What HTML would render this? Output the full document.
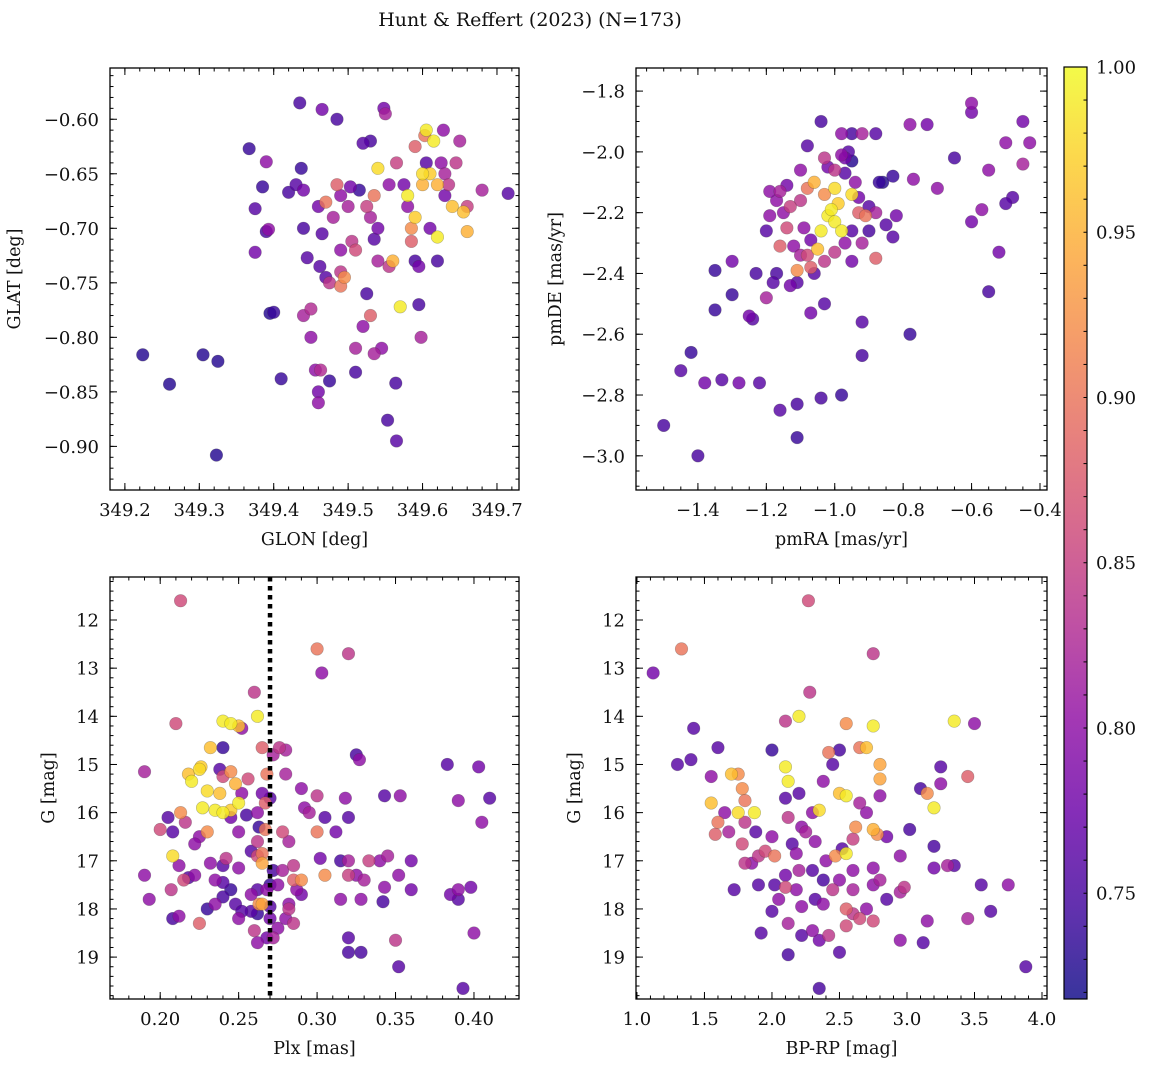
<!DOCTYPE html>
<html><head><meta charset="utf-8"><style>
body{margin:0;background:#fff;}
svg{display:block;font-family:"DejaVu Serif","Liberation Serif",serif;}
</style></head><body>
<svg id="fig" width="1149" height="1067" viewBox="0 0 1149 1067">
<text x="530" y="26" text-anchor="middle" font-size="19" fill="#111">Hunt &amp; Reffert (2023) (N=173)</text>
</svg>
<script>
// ---- data ----
const glon=[349.224,349.26,349.305,349.325,349.323,349.367,349.375,349.375,349.385,349.39,349.393,349.39,349.395,349.40,349.41,349.42,349.435,349.437,349.43,349.44,349.44,349.445,349.44,349.45,349.45,349.456,349.46,349.46,349.463,349.465,349.47,349.46,349.465,349.462,349.47,349.475,349.475,349.485,349.48,349.485,349.49,349.49,349.49,349.49,349.495,349.5,349.503,349.505,349.51,349.51,349.51,349.515,349.52,349.52,349.525,349.53,349.525,349.53,349.535,349.535,349.54,349.54,349.53,349.535,349.54,349.545,349.55,349.548,349.555,349.555,349.56,349.565,349.553,349.565,349.57,349.575,349.58,349.58,349.585,349.585,349.59,349.59,349.59,349.595,349.595,349.598,349.60,349.60,349.603,349.61,349.605,349.605,349.61,349.615,349.62,349.62,349.62,349.625,349.628,349.63,349.63,349.635,349.64,349.645,349.65,349.655,349.66,349.66,349.68,349.715,349.564];
const glat=[-0.816,-0.843,-0.816,-0.822,-0.908,-0.627,-0.682,-0.722,-0.662,-0.639,-0.701,-0.703,-0.778,-0.777,-0.838,-0.667,-0.585,-0.645,-0.66,-0.665,-0.70,-0.727,-0.78,-0.774,-0.80,-0.83,-0.85,-0.86,-0.83,-0.591,-0.676,-0.68,-0.705,-0.735,-0.745,-0.75,-0.84,-0.60,-0.69,-0.66,-0.67,-0.72,-0.74,-0.753,-0.745,-0.68,-0.662,-0.712,-0.72,-0.81,-0.832,-0.665,-0.622,-0.79,-0.76,-0.62,-0.68,-0.69,-0.71,-0.67,-0.645,-0.70,-0.78,-0.815,-0.73,-0.81,-0.595,-0.59,-0.735,-0.66,-0.73,-0.64,-0.876,-0.895,-0.772,-0.66,-0.67,-0.68,-0.70,-0.712,-0.73,-0.69,-0.625,-0.735,-0.77,-0.80,-0.65,-0.66,-0.615,-0.70,-0.61,-0.64,-0.65,-0.62,-0.66,-0.708,-0.73,-0.64,-0.61,-0.65,-0.67,-0.66,-0.68,-0.64,-0.62,-0.685,-0.703,-0.68,-0.665,-0.668,-0.842];
const prob1=[.73,.73,.73,.73,.73,.74,.76,.78,.74,.8,.8,.75,.73,.74,.74,.75,.75,.74,.76,.78,.75,.76,.82,.83,.8,.8,.78,.8,.83,.78,.9,.78,.76,.76,.76,.84,.74,.75,.82,.88,.8,.8,.84,.9,.92,.82,.78,.84,.86,.82,.75,.74,.76,.8,.75,.75,.85,.82,.76,.9,.98,.78,.88,.82,.82,.8,.82,.78,.84,.8,.95,.85,.75,.76,.99,.78,.99,.8,.92,.88,.75,.97,.88,.78,.75,.82,.98,.95,.9,.78,.99,.76,.97,.99,.95,.99,.75,.8,.8,.82,.78,.84,.96,.84,.82,.96,.95,.85,.82,.76,.75];

const pmra=[-1.5,-1.4,-1.45,-1.42,-1.38,-1.33,-1.28,-1.22,-1.35,-1.30,-1.35,-1.30,-1.23,-1.25,-1.24,-1.2,-1.18,-1.17,-1.16,-1.11,-1.11,-1.04,-0.98,-1.07,-1.03,-0.92,-0.92,-0.78,-0.6,-0.6,-0.45,-0.43,-0.5,-0.45,-0.48,-0.5,-0.55,-0.57,-0.6,-0.52,-0.55,-0.65,-0.7,-0.78,-0.73,-0.77,-0.83,-0.88,-0.83,-0.82,-0.85,-0.88,-0.9,-0.93,-0.87,-0.86,-1.04,-1.08,-0.98,-0.95,-0.92,-0.98,-0.96,-1.03,-1.1,-1.14,-1.16,-1.17,-1.15,-1.19,-1.2,-1.16,-1.14,-1.12,-1.13,-1.1,-1.08,-1.06,-1.03,-1.02,-1.01,-1.0,-0.99,-1.0,-0.98,-1.04,-1.05,-1.07,-1.09,-1.1,-1.11,-1.07,-1.03,-1.0,-0.97,-0.95,-0.95,-0.92,-0.9,-0.93,-0.95,-0.97,-1.0,-1.02,-0.94,-0.91,-0.88,-1.13,-1.11,-1.06,-1.08,-0.97,-0.95,-1.19];
const pmde=[-2.9,-3.0,-2.72,-2.66,-2.76,-2.75,-2.76,-2.76,-2.52,-2.47,-2.39,-2.36,-2.4,-2.54,-2.55,-2.48,-2.43,-2.4,-2.85,-2.83,-2.94,-2.81,-2.8,-2.53,-2.5,-2.56,-2.67,-2.6,-1.84,-1.87,-1.9,-1.97,-1.97,-2.04,-2.15,-2.17,-2.06,-2.19,-2.23,-2.33,-2.46,-2.02,-2.12,-1.91,-1.91,-2.09,-2.08,-1.94,-2.28,-2.21,-2.24,-2.2,-2.18,-2.15,-2.1,-2.1,-1.9,-1.98,-1.94,-1.94,-1.94,-2.01,-2.0,-2.02,-2.06,-2.11,-2.13,-2.16,-2.2,-2.21,-2.26,-2.31,-2.25,-2.31,-2.18,-2.16,-2.12,-2.1,-2.14,-2.21,-2.19,-2.23,-2.17,-2.12,-2.26,-2.26,-2.32,-2.29,-2.25,-2.34,-2.39,-2.38,-2.36,-2.33,-2.3,-2.26,-2.36,-2.3,-2.26,-2.2,-2.14,-2.07,-2.06,-2.05,-2.1,-2.21,-2.35,-2.44,-2.43,-2.4,-2.34,-2.02,-2.03,-2.13];
const prob2=[.75,.75,.76,.74,.78,.76,.78,.76,.74,.74,.74,.78,.75,.78,.76,.82,.76,.75,.76,.75,.74,.75,.74,.78,.76,.76,.75,.74,.8,.78,.78,.8,.8,.82,.76,.76,.8,.8,.78,.78,.75,.75,.8,.8,.78,.8,.74,.76,.76,.78,.76,.82,.76,.78,.74,.73,.75,.76,.8,.75,.82,.8,.76,.84,.8,.78,.82,.8,.8,.8,.76,.88,.86,.8,.85,.84,.9,.95,.92,.99,.99,.99,.97,.98,.99,.99,.96,.78,.8,.82,.92,.88,.84,.84,.8,.76,.78,.82,.75,.88,.98,.76,.84,.78,.8,.9,.88,.78,.76,.76,.86,.78,.73,.8];

const plx=[.213,.3,.32,.303,.26,.21,.24,.245,.25,.252,.262,.383,.39,.403,.41,.405,.353,.343,.36,.352,.36,.343,.342,.345,.325,.327,.32,.318,.312,.315,.32,.32,.325,.333,.33,.328,.315,.32,.32,.328,.35,.352,.393,.4,.385,.39,.398,.39,.29,.292,.3,.295,.305,.3,.302,.305,.29,.285,.285,.287,.29,.278,.272,.275,.282,.28,.285,.282,.275,.27,.272,.278,.282,.28,.276,.28,.272,.265,.268,.265,.27,.267,.262,.263,.267,.262,.265,.262,.265,.262,.27,.268,.265,.263,.27,.262,.258,.26,.262,.268,.258,.25,.255,.245,.25,.245,.248,.252,.256,.245,.24,.238,.24,.238,.23,.232,.235,.23,.24,.226,.227,.225,.22,.218,.213,.216,.212,.215,.212,.218,.222,.225,.23,.235,.24,.24,.245,.248,.252,.25,.235,.242,.25,.225,.208,.205,.2,.208,.207,.208,.19,.19,.193,.222,.258,.232,.24,.34];
const gmag3=[11.6,12.6,12.7,13.1,13.5,14.15,14.1,14.15,14.2,14.25,14.0,15.0,15.75,15.05,15.7,16.2,15.65,15.65,17.0,17.3,17.6,17.55,17.85,16.9,14.8,14.9,16.1,15.7,16.4,17.0,17.0,17.3,17.3,17.0,17.4,17.8,17.8,18.6,18.9,18.9,18.65,19.2,19.65,18.5,17.7,17.6,17.55,17.8,15.5,15.9,15.65,16.0,16.1,16.4,16.95,17.3,17.4,17.4,17.1,17.6,17.7,17.2,17.2,17.5,17.9,18.2,18.3,18.0,18.4,18.2,18.6,16.4,16.6,15.2,14.65,14.7,14.8,14.65,15.2,15.6,15.7,15.8,16.0,16.3,16.35,16.6,16.85,16.9,17.05,17.6,17.5,17.6,17.9,17.9,17.95,18.1,18.05,18.45,18.7,18.6,16.8,16.4,16.05,16.1,15.8,15.95,15.4,15.6,15.3,15.15,15.25,15.1,14.65,15.6,15.55,14.65,15.95,16.4,16.0,15.05,15.9,15.1,15.35,15.2,16.0,16.2,17.1,17.4,18.15,17.35,17.3,18.3,18.0,17.4,17.1,17.45,17.6,17.9,18.05,18.2,17.9,16.95,17.15,16.5,16.4,16.1,16.35,16.9,17.6,18.2,15.15,17.3,17.8,16.65,17.7,17.05,17.75,17.0];
const prob3=[.86,.9,.84,.8,.84,.86,.99,.99,.96,.8,.99,.76,.8,.78,.76,.8,.8,.76,.78,.8,.78,.8,.75,.82,.75,.8,.76,.8,.78,.75,.82,.85,.8,.85,.82,.8,.8,.76,.75,.75,.84,.76,.76,.8,.78,.8,.78,.76,.8,.8,.84,.82,.76,.9,.78,.92,.92,.88,.84,.8,.78,.82,.75,.8,.8,.8,.84,.84,.8,.78,.82,.86,.82,.82,.84,.82,.82,.88,.9,.78,.76,.88,.8,.74,.9,.84,.9,.86,.94,.76,.74,.8,.94,.92,.76,.74,.76,.84,.8,.78,.76,.8,.75,.78,.99,.97,.95,.8,.86,.92,.86,.76,.74,.96,.98,.96,.99,.92,.99,.97,.99,.98,.99,.96,.92,.84,.8,.86,.8,.76,.8,.88,.74,.8,.76,.76,.74,.76,.76,.8,.8,.84,.8,.8,.76,.76,.86,.98,.84,.75,.82,.8,.8,.8,.8,.8,.75,.8];

const bprp=[1.12,1.33,2.27,2.75,2.28,1.3,1.42,1.4,1.6,1.55,1.55,1.6,1.58,1.7,1.75,1.78,1.8,1.75,1.8,1.65,1.68,1.78,1.8,1.9,1.85,1.72,1.9,1.92,2.0,2.05,2.02,1.95,2.0,1.88,1.87,2.0,2.1,2.1,2.12,2.2,2.1,2.12,2.2,2.22,2.15,2.18,2.2,2.1,2.1,2.02,2.18,2.22,2.12,2.22,2.12,2.3,2.35,2.35,2.42,2.5,2.55,2.55,2.6,2.65,2.7,2.75,2.75,2.6,2.5,2.45,2.38,2.38,2.32,2.3,2.4,2.47,2.55,2.52,2.6,2.62,2.7,2.65,2.55,2.5,2.38,2.35,2.3,2.25,2.45,2.5,2.42,2.55,2.65,2.7,2.75,2.8,2.8,2.8,2.75,2.78,2.85,2.75,2.8,2.85,2.95,2.98,2.95,3.02,2.95,3.12,3.15,3.1,3.15,3.2,3.2,3.2,3.25,3.25,3.3,3.35,3.45,3.5,3.45,3.55,3.35,3.62,3.75,3.88,2.6,2.32];
const gmag4=[13.1,12.6,11.6,12.7,13.5,15.0,14.25,14.9,14.65,15.25,15.8,16.2,16.45,15.2,15.2,15.5,15.75,16.0,16.2,16.0,16.4,16.65,17.05,16.9,17.05,17.6,17.5,18.5,18.05,17.8,16.9,16.8,16.5,16.4,16.0,14.7,14.1,15.05,15.35,14.0,15.7,16.1,15.6,16.3,16.65,16.85,17.2,17.3,17.55,17.5,17.6,17.95,18.3,18.55,18.95,18.45,18.65,19.65,18.55,18.9,18.35,18.0,18.1,18.2,18.0,18.25,17.5,17.6,17.4,17.6,17.4,17.9,17.8,17.2,17.0,16.9,16.85,16.75,16.55,16.3,16.0,15.8,15.65,15.6,15.35,15.95,16.0,16.4,15.0,14.7,14.75,14.15,14.65,14.65,14.2,15.0,15.3,15.65,16.35,16.45,16.5,17.15,17.4,17.8,16.9,17.55,17.65,16.35,18.65,18.7,18.25,15.5,15.6,15.9,17.15,16.7,15.05,15.4,17.1,14.1,15.25,14.15,18.2,17.5,17.1,18.05,17.5,19.2,17.2,16.6];
const prob4=[.78,.9,.86,.84,.84,.76,.76,.76,.76,.8,.96,.9,.88,.96,.92,.92,.9,.98,.84,.8,.82,.86,.84,.84,.8,.76,.76,.76,.76,.8,.9,.86,.8,.76,.99,.74,.84,.99,.99,.99,.76,.84,.76,.8,.76,.8,.82,.78,.86,.76,.8,.8,.82,.76,.75,.8,.78,.75,.84,.76,.86,.88,.84,.86,.8,.86,.8,.82,.8,.84,.75,.8,.76,.76,.8,.92,.99,.76,.85,.92,.8,.82,.99,.96,.8,.98,.8,.82,.76,.75,.9,.92,.9,.96,.99,.94,.94,.8,.95,.92,.78,.8,.82,.76,.8,.84,.82,.75,.8,.76,.8,.75,.92,.99,.78,.75,.76,.8,.82,.99,.88,.8,.82,.76,.76,.76,.8,.76,.8,.8];

const cbTicks=[0.75,0.80,0.85,0.90,0.95,1.00];
const VMIN=0.718, VMAX=1.0;
// ---- colormap (plasma) ----
const stops=[[13,8,135],[65,4,157],[106,0,168],[143,13,164],[177,42,144],[204,71,120],[225,100,98],[242,132,75],[252,166,54],[252,206,37],[240,249,33]];
function cmap(v){let t=Math.max(0,Math.min(1,(v-VMIN)/(VMAX-VMIN)))*10;const i=Math.min(9,Math.floor(t));const f=t-i;const a=stops[i],b=stops[i+1];return `rgb(${Math.round(a[0]+(b[0]-a[0])*f)},${Math.round(a[1]+(b[1]-a[1])*f)},${Math.round(a[2]+(b[2]-a[2])*f)})`;}

const NS='http://www.w3.org/2000/svg';
const svg=document.getElementById('fig');
function mk(tag,attrs,parent){const e=document.createElementNS(NS,tag);for(const k in attrs)e.setAttribute(k,attrs[k]);(parent||svg).appendChild(e);return e;}
function fmt(v,d){const s=Math.abs(v).toFixed(d);return (v<-1e-9?'\u2212':'')+s;}
const TFS=18, LFS=17.5;

function panel(o){
  const g=mk('g',{});
  
  
  const sx=v=>o.x0+(v-o.xmin)/(o.xmax-o.xmin)*(o.x1-o.x0);
  const sy=v=>o.yinv? o.y0+(v-o.ymin)/(o.ymax-o.ymin)*(o.y1-o.y0) : o.y1-(v-o.ymin)/(o.ymax-o.ymin)*(o.y1-o.y0);
  const pg=mk('g',{},g);
  
  
  const idx=o.xs.map((_,i)=>i).sort((a,b)=>o.ps[a]-o.ps[b]);
  idx.forEach(i=>{
    const c=mk('circle',{cx:sx(o.xs[i]),cy:sy(o.ys[i]),r:6.3,fill:cmap(o.ps[i]),'fill-opacity':0.82,stroke:'rgba(60,60,60,0.35)','stroke-width':0.6},pg);
    
    
  });
  if(o.vline!==undefined){
    const l=mk('line',{x1:sx(o.vline),x2:sx(o.vline),y1:o.y0,y2:o.y1,stroke:'#000','stroke-width':4.5,'stroke-dasharray':'4.5,4.5'},g);
    
    
  }
  const fr=mk('rect',{x:o.x0,y:o.y0,width:o.x1-o.x0,height:o.y1-o.y0,fill:'none',stroke:'#000','stroke-width':1.3},g);
  
  
  const tk={stroke:'#000','stroke-width':1};
  for(let v=Math.ceil(o.xmin/o.xmn-1e-6)*o.xmn; v<=o.xmax+1e-9; v+=o.xmn){const X=sx(v);mk('line',Object.assign({x1:X,x2:X,y1:o.y1,y2:o.y1-3.5},tk),g);mk('line',Object.assign({x1:X,x2:X,y1:o.y0,y2:o.y0+3.5},tk),g);}
  for(let v=Math.ceil(o.ymin/o.ymn-1e-6)*o.ymn; v<=o.ymax+1e-9; v+=o.ymn){const Y=sy(v);mk('line',Object.assign({x1:o.x0,x2:o.x0+3.5,y1:Y,y2:Y},tk),g);mk('line',Object.assign({x1:o.x1,x2:o.x1-3.5,y1:Y,y2:Y},tk),g);}
  o.xt.forEach(v=>{const X=sx(v);mk('line',Object.assign({x1:X,x2:X,y1:o.y1,y2:o.y1-7},tk),g);mk('line',Object.assign({x1:X,x2:X,y1:o.y0,y2:o.y0+7},tk),g);
    const t=mk('text',{x:X,y:o.y1+26,'text-anchor':'middle','font-size':TFS,fill:'#111'},g);t.textContent=fmt(v,o.xd);
    });
  o.yt.forEach(v=>{const Y=sy(v);mk('line',Object.assign({x1:o.x0,x2:o.x0+7,y1:Y,y2:Y},tk),g);mk('line',Object.assign({x1:o.x1,x2:o.x1-7,y1:Y,y2:Y},tk),g);
    const t=mk('text',{x:o.x0-11,y:Y+6.5,'text-anchor':'end','font-size':TFS,fill:'#111'},g);t.textContent=fmt(v,o.yd);
    });
  const xl=mk('text',{x:(o.x0+o.x1)/2,y:o.y1+55,'text-anchor':'middle','font-size':LFS,fill:'#111'},g);xl.textContent=o.xlabel;
  
  const yx=o.x0-o.ylx;const yc=(o.y0+o.y1)/2;
  const yl=mk('text',{x:yx,y:yc,'text-anchor':'middle','font-size':LFS,fill:'#111',transform:`rotate(-90 ${yx} ${yc})`},g);yl.textContent=o.ylabel;
  
}
const rng=(a,b,s)=>{const r=[];for(let v=a;v<=b+1e-9;v+=s)r.push(+v.toFixed(6));return r;};
panel({name:'glon-glat-panel',x0:110,x1:519,y0:68,y1:490,xmin:349.18,xmax:349.7296,ymin:-0.940,ymax:-0.553,
  xs:glon,ys:glat,ps:prob1,xt:rng(349.2,349.7,0.1),yt:rng(-0.90,-0.60,0.05),xd:1,yd:2,xmn:0.02,ymn:0.01,xlabel:'GLON [deg]',ylabel:'GLAT [deg]',ylx:90});
panel({name:'pm-panel',x0:636,x1:1047,y0:68,y1:490,xmin:-1.581,xmax:-0.3795,ymin:-3.1125,ymax:-1.724,
  xs:pmra,ys:pmde,ps:prob2,xt:rng(-1.4,-0.4,0.2),yt:rng(-3.0,-1.8,0.2),xd:1,yd:1,xmn:0.05,ymn:0.05,xlabel:'pmRA [mas/yr]',ylabel:'pmDE [mas/yr]',ylx:75});
panel({name:'plx-g-panel',x0:110,x1:519,y0:577,y1:999,xmin:0.168,xmax:0.4287,ymin:11.107,ymax:19.87,yinv:true,
  xs:plx,ys:gmag3,ps:prob3,xt:rng(0.2,0.4,0.05),yt:rng(12,19,1),xd:2,yd:0,xmn:0.01,ymn:0.2,xlabel:'Plx [mas]',ylabel:'G [mag]',ylx:56,vline:0.27});
panel({name:'color-g-panel',x0:636,x1:1047,y0:577,y1:999,xmin:0.993,xmax:4.037,ymin:11.107,ymax:19.87,yinv:true,
  xs:bprp,ys:gmag4,ps:prob4,xt:rng(1.0,4.0,0.5),yt:rng(12,19,1),xd:1,yd:0,xmn:0.1,ymn:0.2,xlabel:'BP-RP [mag]',ylabel:'G [mag]',ylx:56});

// colorbar
const cb=mk('g',{});


const defs=mk('defs',{},cb);
const lg=mk('linearGradient',{id:'cbg',x1:0,y1:1,x2:0,y2:0},defs);
stops.forEach((s,i)=>mk('stop',{offset:i/10,'stop-color':`rgb(${s})`,'stop-opacity':0.82},lg));
const cy0=67,cy1=999,cx0=1064,cx1=1087;
const cs=v=>cy1-(v-VMIN)/(VMAX-VMIN)*(cy1-cy0);
mk('rect',{x:cx0,y:cy0,width:cx1-cx0,height:cy1-cy0,fill:'url(#cbg)',stroke:'#000','stroke-width':1.2},cb);
for(let v=0.72;v<=1.0001;v+=0.01){const Y=cs(v);mk('line',{x1:cx1,x2:cx1-3.5,y1:Y,y2:Y,stroke:'#000','stroke-width':1},cb);}
cbTicks.forEach(v=>{const Y=cs(v);
  const t=mk('text',{x:cx1+9,y:Y+6.5,'font-size':TFS,fill:'#111'},cb);t.textContent=v.toFixed(2);
  });
</script>
</body></html>
